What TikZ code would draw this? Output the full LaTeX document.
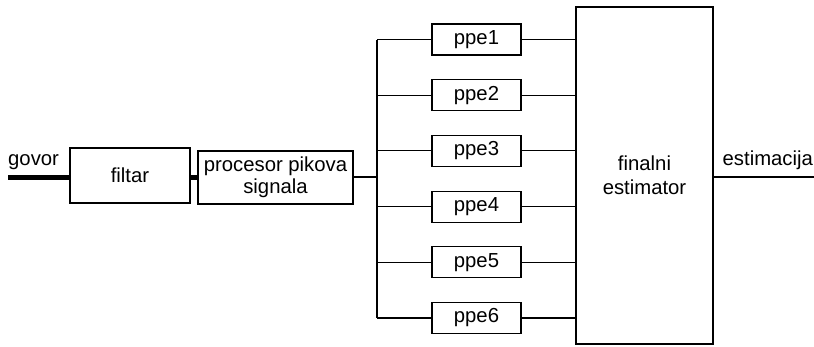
\documentclass[tikz,border=0pt]{standalone}
\usepackage{fontspec}
\setmainfont{Liberation Sans}
\begin{document}
\begin{tikzpicture}[x=1pt,y=-1pt,
  every node/.style={font=\fontsize{20.3}{22}\selectfont},
  blk/.style={draw, line width=1.1pt, inner sep=0pt, align=center},
  ppebox/.style={blk, minimum width=89pt, minimum height=31pt},
  wire/.style={line width=1.1pt},
  thick wire/.style={line width=5pt}]
\useasboundingbox (0,0) rectangle (814,346);
\node[blk, minimum width=120pt, minimum height=55pt] (filtar) at (130,175.5) {filtar};
\node[blk, minimum width=155pt, minimum height=53pt, font=\fontsize{20.3}{22}\selectfont] (proc) at (275.5,177.5) {procesor pikova\\signala};
\node[blk, minimum width=137pt, minimum height=337pt, font=\fontsize{20.3}{24}\selectfont] (est) at (644.5,175.5) {finalni\\estimator};
\foreach \i/\y in {1/39.5,2/95.2,3/150.9,4/206.6,5/262.3,6/318}{
  \node[ppebox] (ppe\i) at (476.5,\y) {ppe\i};
}
\coordinate (in) at (8,177.5);
\coordinate (out) at (814,177);
\coordinate (bustop) at (377,39.5);
\coordinate (busbot) at (377,318);
\coordinate (busmid) at (377,177);
\node[anchor=base west, inner sep=0pt] (govor) at (8,165) {govor};
\node[anchor=base west, inner sep=0pt] (estlab) at (722.5,165) {estimacija};
\draw[thick wire] (in) -- (filtar.west |- in);
\draw[thick wire] (filtar.east |- in) -- (proc.west |- in);
\draw[wire] (proc.east |- busmid) -- (busmid);
\draw[wire] (bustop) -- (busbot);
\foreach \i in {1,...,6}{
  \draw[wire] (bustop |- ppe\i.west) -- (ppe\i.west);
  \draw[wire] (ppe\i.east) -- (est.west |- ppe\i.east);
}
\draw[wire] (est.east |- out) -- (out);
\end{tikzpicture}
\end{document}
